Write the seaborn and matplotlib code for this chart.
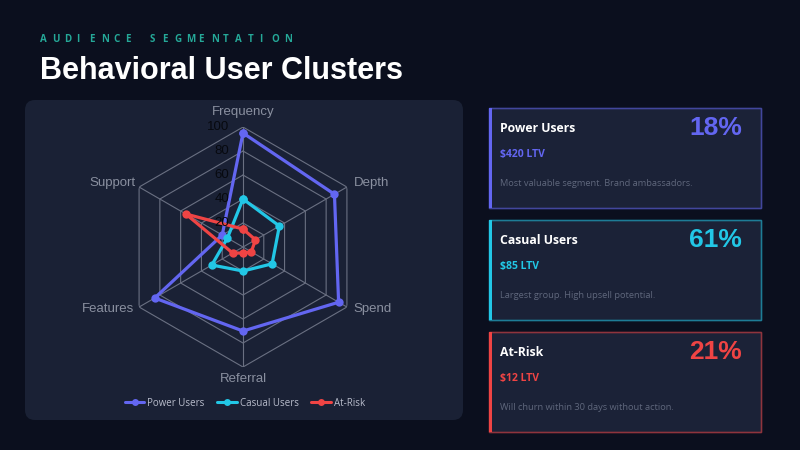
import numpy as np
import pandas as pd
import matplotlib
matplotlib.use("Agg")
import matplotlib.pyplot as plt
import matplotlib.transforms as mtransforms
from matplotlib.patches import FancyBboxPatch, Rectangle
from matplotlib.lines import Line2D
import seaborn as sns

# ---- data ----
axes_labels = ['Frequency', 'Depth', 'Spend', 'Referral', 'Features', 'Support']
power_users = [95, 88, 92, 70, 85, 20]
casual_users = [40, 35, 28, 20, 30, 15]
at_risk = [15, 12, 8, 5, 10, 55]
series_names = ['Power Users', 'Casual Users', 'At-Risk']
radial_ticks = [20, 40, 60, 80, 100]

card_names = ['Power Users', 'Casual Users', 'At-Risk']
card_share = ['18%', '61%', '21%']
card_ltv = ['$420 LTV', '$85 LTV', '$12 LTV']
card_desc = ['Most valuable segment. Brand ambassadors.',
             'Largest group. High upsell potential.',
             'Will churn within 30 days without action.']

colors = ['#6366f1', '#22c7e6', '#ef4444']
bg = '#0b0f1e'
panel = '#1a2135'
grid_col = '#6a7082'

sns.set_theme(style='dark')
plt.rcParams['font.family'] = ['Liberation Sans', 'DejaVu Sans']

fig = plt.figure(figsize=(8, 4.5), dpi=100)
fig.patch.set_facecolor(bg)

# background layer in pixel coords
bgax = fig.add_axes([0, 0, 1, 1])
bgax.set_xlim(0, 800)
bgax.set_ylim(450, 0)
bgax.axis('off')
bgax.patch.set_alpha(0)

# header
sub = 'AUDIENCE SEGMENTATION'
for i, ch in enumerate(sub):
    bgax.text(40 + i * 12.2, 39, ch, color='#25a898', fontsize=7,
              fontweight='bold', family='Open Sans', va='center', ha='left')
bgax.text(40, 71, 'Behavioral User Clusters', color='white', fontsize=22,
          fontweight='bold', va='center', ha='left')

# chart panel
bgax.add_patch(FancyBboxPatch((25, 100), 438, 320,
                              boxstyle='round,pad=0,rounding_size=10',
                              facecolor=panel, edgecolor='none'))

# cards
card_tops = [108, 220, 332]
for i in range(3):
    top = card_tops[i]
    bgax.add_patch(Rectangle((489, top), 272, 100, facecolor='#1b2237',
                             edgecolor=colors[i], linewidth=1))
    bgax.add_patch(Rectangle((489, top), 272, 100, facecolor='none',
                             edgecolor=panel, linewidth=1, alpha=0.45))
    bgax.add_patch(Rectangle((489, top), 3, 100, facecolor=colors[i],
                             edgecolor='none'))
    bgax.text(500, top + 21, card_names[i], color='white', fontsize=8.8,
              fontweight='bold', family='Open Sans', va='center')
    bgax.text(742, top + 20, card_share[i], color=colors[i], fontsize=19,
              fontweight='bold', va='center', ha='right')
    bgax.text(500, top + 47, card_ltv[i], color=colors[i], fontsize=7.5,
              fontweight='bold', family='Open Sans', va='center')
    bgax.text(500, top + 75, card_desc[i], color='#5f677c', fontsize=6.7,
              family='Open Sans', va='center')

# radar
ax = fig.add_axes([0.15375, 0.1844, 0.3, 0.5333], projection='polar')
ax.patch.set_alpha(0)
ax.set_theta_offset(np.pi / 2)
ax.set_theta_direction(-1)
ax.set_ylim(0, 100)
ax.grid(False)
ax.spines['polar'].set_visible(False)
ax.set_xticks([])
ax.set_yticks([])

n = len(axes_labels)
theta = np.linspace(0, 2 * np.pi, n, endpoint=False)
theta_c = np.append(theta, 2 * np.pi)

for lvl in radial_ticks:
    ax.plot(theta_c, [lvl] * (n + 1), color=grid_col, linewidth=0.8, zorder=1)
for a in theta:
    ax.plot([a, a], [0, 100], color=grid_col, linewidth=0.8, zorder=1)

for name, vals, c in zip(series_names, [power_users, casual_users, at_risk], colors):
    df = pd.DataFrame({'theta': theta_c, 'value': vals + vals[:1]})
    sns.lineplot(data=df, x='theta', y='value', sort=False, ax=ax, color=c,
                 linewidth=2.3, marker='o', markersize=6,
                 markeredgewidth=0, zorder=3, legend=False)

ax.set_xlabel('')
ax.set_ylabel('')

# radial tick labels
tick_tr = mtransforms.offset_copy(ax.transData, fig=fig, x=-14, y=0, units='dots')
for lvl in radial_ticks:
    ax.text(0, lvl, str(lvl), transform=tick_tr, color='#07090f',
            fontsize=9.5, ha='right', va='center', zorder=4)

# category labels
label_off = [(0, 15, 'center'), (7, 4, 'left'), (7, -2, 'left'),
             (0, -12, 'center'), (-5, -2, 'right'), (-4, 4, 'right')]
for a, lab, (dx, dy, ha) in zip(theta, axes_labels, label_off):
    tr = mtransforms.offset_copy(ax.transData, fig=fig, x=dx, y=dy, units='dots')
    ax.text(a, 100, lab, transform=tr, color='#8a90a0', fontsize=9.5,
            ha=ha, va='center', clip_on=False)

# legend
handles = [Line2D([0], [0], color=c, linewidth=2.2, marker='o', markersize=5,
                  markeredgewidth=0) for c in colors]
leg = fig.legend(handles, series_names, loc='center',
                 bbox_to_anchor=(245 / 800, 1 - 403 / 450), ncol=3,
                 frameon=False, handlelength=2.0,
                 handletextpad=0.3, columnspacing=1.3,
                 prop={'family': 'Open Sans', 'size': 7})
for t in leg.get_texts():
    t.set_color('#b8bccb')

fig.savefig('out.png', dpi=100, facecolor=bg)
